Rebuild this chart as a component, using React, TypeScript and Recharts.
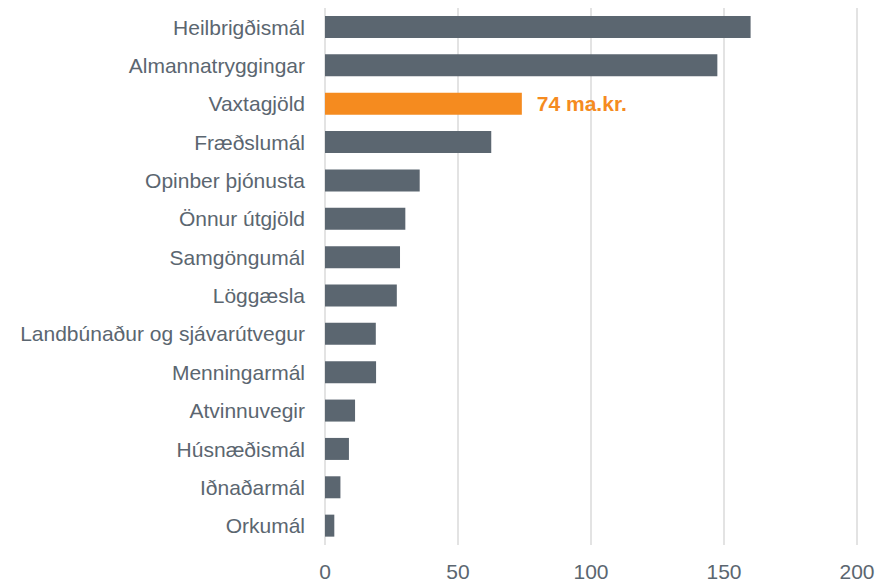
import React from 'react';
import { BarChart, Bar, XAxis, YAxis, CartesianGrid, Cell, LabelList } from 'recharts';

const categories = [
  'Heilbrigðismál',
  'Almannatryggingar',
  'Vaxtagjöld',
  'Fræðslumál',
  'Opinber þjónusta',
  'Önnur útgjöld',
  'Samgöngumál',
  'Löggæsla',
  'Landbúnaður og sjávarútvegur',
  'Menningarmál',
  'Atvinnuvegir',
  'Húsnæðismál',
  'Iðnaðarmál',
  'Orkumál',
];

const values = [160, 147.5, 74, 62.5, 35.6, 30.2, 28.2, 27, 19.1, 19.2, 11.3, 9, 5.8, 3.5];

const xTicks = [0, 50, 100, 150, 200];

const highlighted = 'Vaxtagjöld';
const labelUnit = 'ma.kr.';

const data = categories.map((name, i) => ({ name, value: values[i] }));

const GREY = '#5b6670';
const ORANGE = '#f58b1f';
const FONT = 'Arial, "Liberation Sans", sans-serif';

// only the highlighted bar gets a value label
const renderLabel = (props: any) => {
  const { x, y, width, height, value, index } = props;
  if (categories[index] !== highlighted) return null;
  return (
    <text
      x={x + width + 15}
      y={y + height / 2}
      dy="0.35em"
      fill={ORANGE}
      fontSize={21}
      fontWeight="bold"
      fontFamily={FONT}
    >
      {`${Math.round(value)} ${labelUnit}`}
    </text>
  );
};

const App = () => {
  return (
    <div style={{ position: 'absolute', left: 0, top: 0, background: '#fff' }}>
      <BarChart
        width={882}
        height={584}
        data={data}
        layout="vertical"
        margin={{ top: 8, right: 25, bottom: 0, left: 0 }}
        barSize={22}
      >
        <CartesianGrid horizontal={false} stroke="#e3e3e3" strokeWidth={2} />
        <XAxis
          type="number"
          domain={[0, 200]}
          ticks={xTicks}
          axisLine={false}
          tickLine={false}
          height={39}
          tickMargin={13}
          tick={{ fill: GREY, fontSize: 21, fontFamily: FONT }}
        />
        <YAxis
          type="category"
          dataKey="name"
          width={325}
          axisLine={false}
          tickLine={false}
          tickMargin={14}
          interval={0}
          tick={{ fill: GREY, fontSize: 21, fontFamily: FONT }}
        />
        <Bar dataKey="value" isAnimationActive={false}>
          {data.map((entry, index) => (
            <Cell key={`cell-${index}`} fill={entry.name === highlighted ? ORANGE : GREY} />
          ))}
          <LabelList dataKey="value" content={renderLabel} />
        </Bar>
      </BarChart>
    </div>
  );
};

export default App;
